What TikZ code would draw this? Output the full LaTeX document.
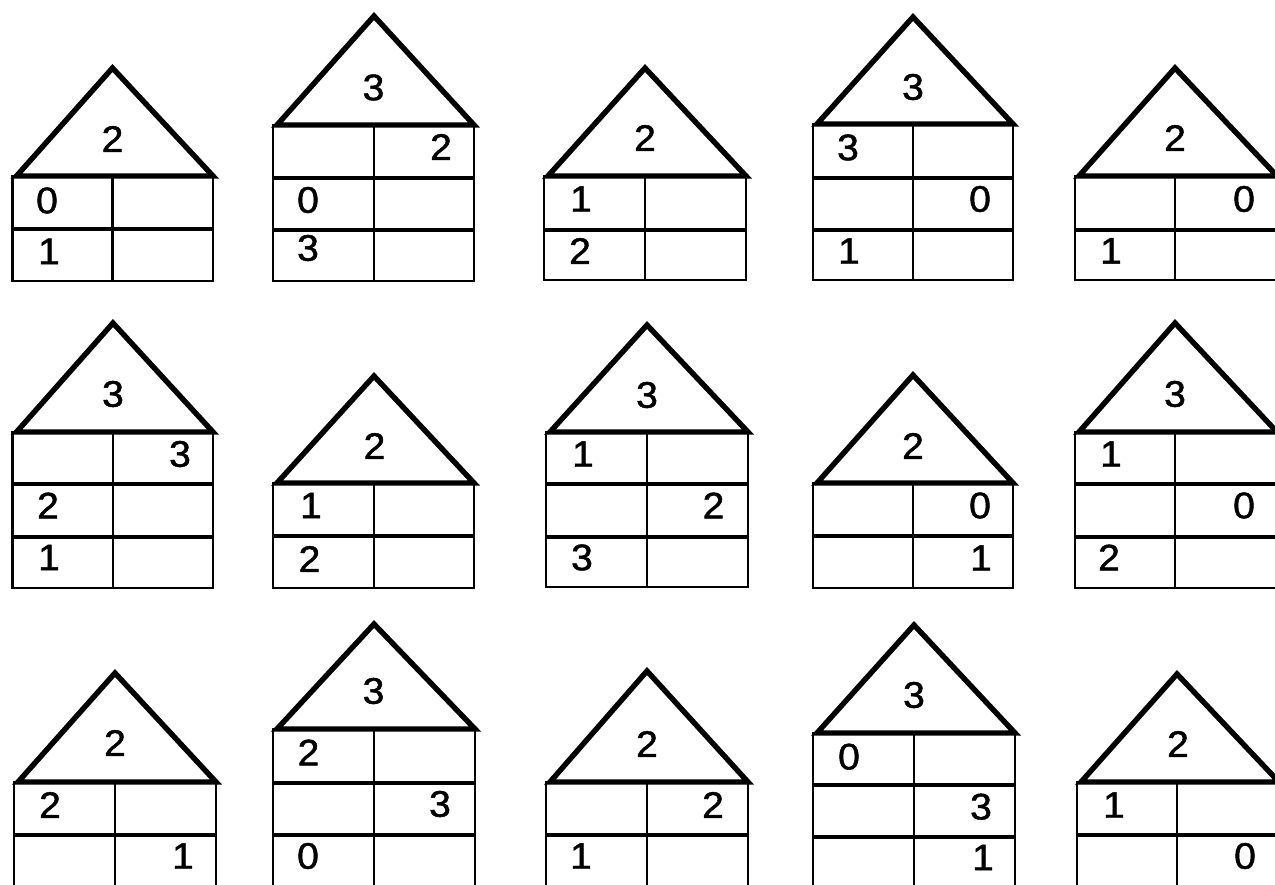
\documentclass[tikz,border=0pt]{standalone}
\usepackage{fontspec}
\setmainfont{Liberation Sans}
\newfontfamily\digfont[FakeBold=1.2]{Liberation Sans}
\tikzset{
  roofline/.style={line width=5.4pt, line join=miter},
  wall/.style={line width=2.5pt},
  sepline/.style={line width=4pt},
  digit/.style={inner sep=0pt, font=\digfont\fontsize{37}{42}\selectfont}
}
\newcommand\mkhouse[8]{%
  \draw[wall] (#2,#6) rectangle (#4,#7);
  \draw[wall] (#3,#6) -- (#3,#7);
  \foreach \s in {#8} {\draw[sepline] (#2,\s) -- (#4,\s);}
  \draw[roofline] ({#2+4},#6) coordinate (#1-bl) -- (#3,{#5+3}) coordinate (#1-ap) -- (#4,#6) coordinate (#1-br) -- cycle;
}
\newcommand\dig[3]{\node[digit] (#1) at (#2) {\scalebox{1.06}[1]{#3}};}
\begin{document}
\begin{tikzpicture}[x=1pt,y=-1pt]
\useasboundingbox (0,0) rectangle (1275,884);
\clip (0,0) rectangle (1275,884);
% row 1
\mkhouse{h1}{12.5}{112.5}{213}{65}{176}{281}{229}
\dig{h1t}{112.5,139}{2}\dig{h1a}{47,200.5}{0}\dig{h1b}{49,251.3}{1}
\mkhouse{h2}{273}{374}{474}{13}{125}{281}{178,230}
\dig{h2t}{373.5,87.5}{3}\dig{h2a}{441,147}{2}\dig{h2b}{308,200}{0}\dig{h2c}{308,248}{3}
\mkhouse{h3}{544}{645}{746}{65}{176}{280}{230}
\dig{h3t}{645,138}{2}\dig{h3a}{581,199}{1}\dig{h3b}{580,251}{2}
\mkhouse{h4}{813}{913}{1013}{14}{124}{280}{178,230}
\dig{h4t}{913,87}{3}\dig{h4a}{848,147.5}{3}\dig{h4b}{980,199}{0}\dig{h4c}{849,251}{1}
\mkhouse{h5}{1075}{1175}{1277}{65}{176}{280}{230}
\dig{h5t}{1175,138}{2}\dig{h5a}{1244,199}{0}\dig{h5b}{1111,250.8}{1}
% row 2
\mkhouse{h6}{12.5}{113}{213}{320}{432}{588}{484,537}
\dig{h6t}{113,394}{3}\dig{h6a}{180,454}{3}\dig{h6b}{48,505.5}{2}\dig{h6c}{49,557.5}{1}
\mkhouse{h7}{273}{374}{474}{373}{483}{588}{536}
\dig{h7t}{374.5,446}{2}\dig{h7a}{311,505.5}{1}\dig{h7b}{309.5,559}{2}
\mkhouse{h8}{546}{647}{748}{322}{432}{587}{484,537}
\dig{h8t}{647,395}{3}\dig{h8a}{583,454}{1}\dig{h8b}{713.5,505.5}{2}\dig{h8c}{582,557.5}{3}
\mkhouse{h9}{813}{913}{1013}{372}{483}{588}{536}
\dig{h9t}{913,446}{2}\dig{h9a}{980,505.5}{0}\dig{h9b}{981,558}{1}
\mkhouse{h10}{1075}{1175}{1277}{320}{432}{588}{484,537}
\dig{h10t}{1175,394}{3}\dig{h10a}{1111,454}{1}\dig{h10b}{1244,505.5}{0}\dig{h10c}{1109,557.5}{2}
% row 3
\mkhouse{h11}{14}{115}{216}{670}{782}{888}{835}
\dig{h11t}{115,743}{2}\dig{h11a}{50,805}{2}\dig{h11b}{183,856}{1}
\mkhouse{h12}{273}{374}{475}{621}{729}{888}{783,835}
\dig{h12t}{373.5,691}{3}\dig{h12a}{308.5,752.5}{2}\dig{h12b}{440,804}{3}\dig{h12c}{308,856}{0}
\mkhouse{h13}{546}{647}{748}{668}{782}{888}{835}
\dig{h13t}{647,744}{2}\dig{h13a}{713,805}{2}\dig{h13b}{581,856}{1}
\mkhouse{h14}{813}{914}{1015}{622}{733}{889}{785,837}
\dig{h14t}{914,695}{3}\dig{h14a}{849,756.7}{0}\dig{h14b}{981,806.7}{3}\dig{h14c}{983,857.5}{1}
\mkhouse{h15}{1077}{1177}{1279}{671}{782}{888}{835}
\dig{h15t}{1178,744}{2}\dig{h15a}{1114,805}{1}\dig{h15b}{1245,856}{0}
\end{tikzpicture}
\end{document}
